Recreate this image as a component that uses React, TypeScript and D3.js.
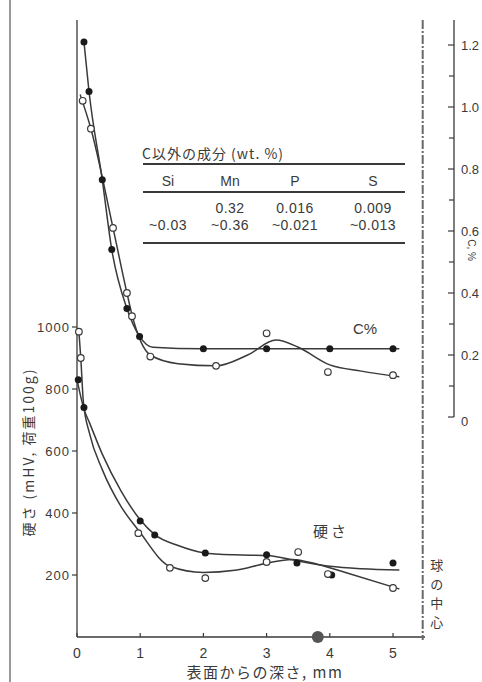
import * as d3 from 'd3';

// 深さ (mm)
const depthTicks = [0, 1, 2, 3, 4, 5];
const hvTicks = [200, 400, 600, 800, 1000];
const cTicks = [0, 0.2, 0.4, 0.6, 0.8, 1.0, 1.2];
const cMinorTicks = [0.1, 0.3, 0.5, 0.7, 0.9, 1.1];

// C% 測定点
const cFilledDepth = [0.11, 0.19, 0.4, 0.55, 0.79, 0.99, 2.0, 3.0, 4.0, 5.0];
const cFilledVal = [1.21, 1.05, 0.765, 0.54, 0.35, 0.26, 0.22, 0.22, 0.22, 0.22];
const cOpenDepth = [0.09, 0.22, 0.57, 0.79, 0.87, 1.16, 2.2, 3.0, 3.97, 5.0];
const cOpenVal = [1.02, 0.93, 0.61, 0.4, 0.325, 0.195, 0.165, 0.27, 0.145, 0.135];

// C% 曲線 (読み取り)
const cFilledFitDepth = [0.11, 0.19, 0.4, 0.55, 0.79, 0.99, 1.2, 2.0, 3.0, 4.0, 5.1];
const cFilledFitVal = [1.21, 1.05, 0.765, 0.54, 0.35, 0.26, 0.225, 0.22, 0.22, 0.22, 0.22];
const cOpenFitDepth = [0.05, 0.22, 0.57, 0.79, 0.87, 1.16, 1.6, 2.2, 2.7, 3.15, 3.5, 4.0, 4.5, 5.1];
const cOpenFitVal = [1.04, 0.93, 0.61, 0.4, 0.33, 0.2, 0.172, 0.165, 0.2, 0.248, 0.225, 0.168, 0.148, 0.13];

// 硬さ 測定点
const hvFilledDepth = [0.02, 0.11, 1.0, 1.23, 2.03, 3.0, 3.48, 4.03, 5.0];
const hvFilledVal = [830, 740, 374, 329, 271, 265, 239, 200, 239];
const hvOpenDepth = [0.03, 0.06, 0.97, 1.47, 2.03, 3.0, 3.5, 3.97, 5.0];
const hvOpenVal = [985, 900, 335, 223, 190, 242, 274, 203, 158];

// 硬さ 曲線 (読み取り)
const hvFilledFitDepth = [0.0, 0.11, 0.2, 0.4, 0.7, 1.0, 1.23, 1.6, 2.0, 2.5, 3.0, 3.5, 4.0, 4.5, 5.1];
const hvFilledFitVal = [830, 735, 690, 590, 470, 378, 330, 295, 272, 265, 263, 245, 228, 220, 216];
const hvOpenFitDepth = [0.03, 0.06, 0.1, 0.2, 0.4, 0.7, 0.97, 1.47, 2.0, 2.5, 3.0, 3.4, 3.8, 4.3, 5.1];
const hvOpenFitVal = [985, 900, 760, 655, 540, 420, 345, 228, 208, 215, 238, 250, 235, 205, 155];

const centerDepth = 5.47; // 球の中心
const bigDotDepth = [3.81];

const tableHead = ['Si', 'Mn', 'P', 'S'];
const tableRow1 = ['', '0.32', '0.016', '0.009'];
const tableRow2 = ['~0.03', '~0.36', '~0.021', '~0.013'];

const ink = '#3a3a3a';
const numFont = '"Liberation Sans", Arial, sans-serif';
const jpFont = '"Noto Sans CJK JP", sans-serif';

export default function App() {
  const W = 482;
  const H = 682;

  const x = d3.scaleLinear().domain([0, 5]).range([77, 393]);
  const yH = d3.scaleLinear().domain([0, 1000]).range([637, 327]);
  const yC = d3.scaleLinear().domain([0, 1.2]).range([417, 45]);

  const lineH = d3.line<[number, number]>()
    .x(d => x(d[0]))
    .y(d => yH(d[1]))
    .curve(d3.curveMonotoneX);
  const lineC = d3.line<[number, number]>()
    .x(d => x(d[0]))
    .y(d => yC(d[1]))
    .curve(d3.curveMonotoneX);

  const zip = (a: number[], b: number[]) => a.map((v, i) => [v, b[i]] as [number, number]);

  const axisX0 = x(0);
  const xCenter = x(centerDepth);
  const cAxisX = 454;
  const baseY = yH(0);
  const tableCols = [168, 230, 295, 373];

  return (
    <svg width={W} height={H} style={{ position: 'absolute', left: 0, top: 0, background: '#fff' }}>
      {/* 左の枠線 */}
      <line x1={10} x2={10} y1={0} y2={H} stroke="#9a9a9a" strokeWidth={2} />

      {/* 硬さ軸 */}
      <line x1={axisX0} x2={axisX0} y1={20} y2={baseY} stroke={ink} strokeWidth={1.3} />
      {hvTicks.map(t => (
        <g key={t}>
          <line x1={axisX0 - 5} x2={axisX0} y1={yH(t)} y2={yH(t)} stroke={ink} strokeWidth={1.2} />
          <text x={axisX0 - 7} y={yH(t) + 5} textAnchor="end" fontFamily={numFont} fontSize={13} letterSpacing={1} fill={ink}>{t}</text>
        </g>
      ))}
      <text transform={`translate(34, 452) rotate(-90)`} textAnchor="middle" fontFamily={jpFont} fontSize={14} letterSpacing={2} fill={ink}>
        硬さ (mHV, 荷重100g)
      </text>

      {/* 深さ軸 */}
      <line x1={axisX0} x2={425} y1={baseY} y2={baseY} stroke={ink} strokeWidth={1.5} />
      {depthTicks.map(t => (
        <g key={t}>
          <line x1={x(t)} x2={x(t)} y1={baseY - 4} y2={baseY} stroke={ink} strokeWidth={1.2} />
          <text x={x(t)} y={658} textAnchor="middle" fontFamily={numFont} fontSize={14} fill={ink}>{t}</text>
        </g>
      ))}
      <text x={265} y={678} textAnchor="middle" fontFamily={jpFont} fontSize={15} letterSpacing={1.5} fill={ink}>表面からの深さ, mm</text>

      {/* 球の中心 */}
      <line x1={xCenter} x2={xCenter} y1={20} y2={baseY + 3} stroke="#6a6a6a" strokeWidth={2} strokeDasharray="9 2 2 2" />
      {['球', 'の', '中', '心'].map((c, i) => (
        <text key={c} x={xCenter + 14} y={570 + i * 19} textAnchor="middle" fontFamily={jpFont} fontSize={13} fill={ink}>{c}</text>
      ))}

      {/* C% 軸 */}
      <line x1={cAxisX} x2={cAxisX} y1={20} y2={yC(0)} stroke={ink} strokeWidth={1.3} />
      {cTicks.map(t => (
        <g key={t}>
          <line x1={cAxisX - 6} x2={cAxisX} y1={yC(t)} y2={yC(t)} stroke={ink} strokeWidth={1.2} />
          <text x={cAxisX + 7} y={yC(t) + 5 + (t === 0 ? 4 : 0)} fontFamily={numFont} fontSize={13} fill={ink}>
            {t === 0 ? '0' : t.toFixed(1)}
          </text>
        </g>
      ))}
      {cMinorTicks.map(t => (
        <line key={t} x1={cAxisX - 5} x2={cAxisX} y1={yC(t)} y2={yC(t)} stroke={ink} strokeWidth={1.2} />
      ))}
      <text transform={`translate(468, 250) rotate(90)`} textAnchor="middle" fontFamily={numFont} fontSize={10} fill={ink}>C, %</text>

      {/* 成分表 */}
      <text x={142} y={159} fontFamily={jpFont} fontSize={14} letterSpacing={1} fill={ink}>C以外の成分 (wt. %)</text>
      <line x1={143} x2={405} y1={164} y2={164} stroke={ink} strokeWidth={2} />
      {tableHead.map((h, i) => (
        <text key={h} x={tableCols[i]} y={186} textAnchor="middle" fontFamily={numFont} fontSize={14} fill={ink}>{h}</text>
      ))}
      <line x1={143} x2={405} y1={192} y2={192} stroke={ink} strokeWidth={2} />
      {tableRow1.map((v, i) => (
        <text key={'r1' + i} x={tableCols[i]} y={213} textAnchor="middle" fontFamily={numFont} fontSize={14} letterSpacing={0.5} fill={ink}>{v}</text>
      ))}
      {tableRow2.map((v, i) => (
        <text key={'r2' + i} x={tableCols[i]} y={230} textAnchor="middle" fontFamily={numFont} fontSize={14} letterSpacing={0.5} fill={ink}>{v}</text>
      ))}
      <line x1={143} x2={405} y1={243} y2={243} stroke={ink} strokeWidth={2} />

      {/* 曲線 */}
      <path d={lineC(zip(cFilledFitDepth, cFilledFitVal)) || ''} fill="none" stroke={ink} strokeWidth={1.5} />
      <path d={lineC(zip(cOpenFitDepth, cOpenFitVal)) || ''} fill="none" stroke={ink} strokeWidth={1.5} />
      <path d={lineH(zip(hvFilledFitDepth, hvFilledFitVal)) || ''} fill="none" stroke={ink} strokeWidth={1.5} />
      <path d={lineH(zip(hvOpenFitDepth, hvOpenFitVal)) || ''} fill="none" stroke={ink} strokeWidth={1.5} />

      {/* 測定点 */}
      {zip(cFilledDepth, cFilledVal).map((d, i) => (
        <circle key={'cf' + i} cx={x(d[0])} cy={yC(d[1])} r={3.5} fill="#1a1a1a" />
      ))}
      {zip(cOpenDepth, cOpenVal).map((d, i) => (
        <circle key={'co' + i} cx={x(d[0])} cy={yC(d[1])} r={3.3} fill="#fff" stroke={ink} strokeWidth={1.2} />
      ))}
      {zip(hvFilledDepth, hvFilledVal).map((d, i) => (
        <circle key={'hf' + i} cx={x(d[0])} cy={yH(d[1])} r={3.5} fill="#1a1a1a" />
      ))}
      {zip(hvOpenDepth, hvOpenVal).map((d, i) => (
        <circle key={'ho' + i} cx={x(d[0])} cy={yH(d[1])} r={3.3} fill="#fff" stroke={ink} strokeWidth={1.2} />
      ))}
      {bigDotDepth.map(d => (
        <circle key={'b' + d} cx={x(d)} cy={baseY} r={6} fill="#555" />
      ))}

      {/* ラベル */}
      <text x={353} y={334} fontFamily={numFont} fontSize={15} fill={ink}>C%</text>
      <text x={313} y={537} fontFamily={jpFont} fontSize={15} letterSpacing={3} fill={ink}>硬さ</text>
    </svg>
  );
}
